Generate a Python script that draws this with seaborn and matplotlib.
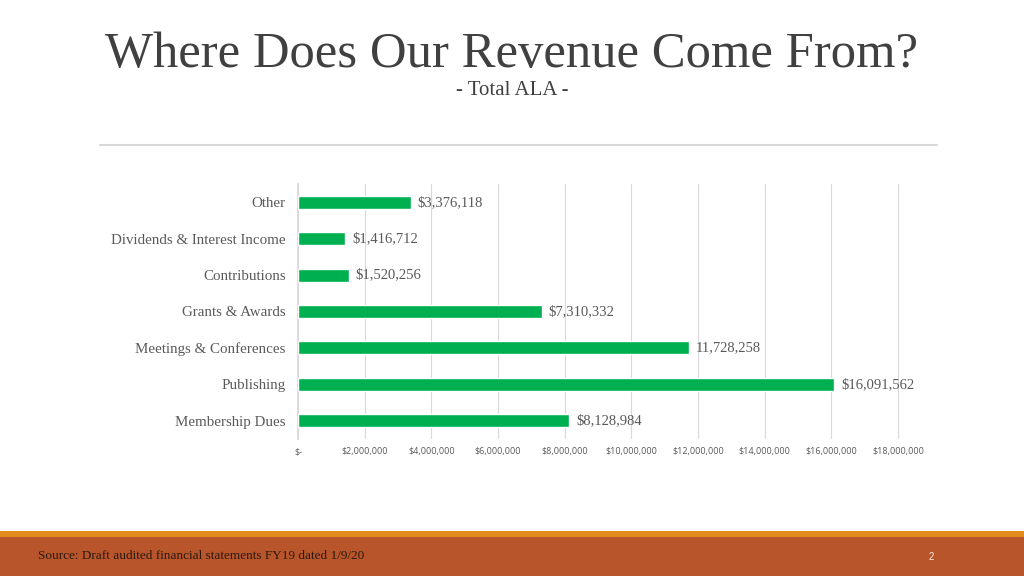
import numpy as np
import pandas as pd
import seaborn as sns
import matplotlib.pyplot as plt
from matplotlib.patches import Rectangle
from matplotlib.ticker import FuncFormatter

# veriler (üstten alta)
categories = ["Other", "Dividends & Interest Income", "Contributions",
              "Grants & Awards", "Meetings & Conferences", "Publishing",
              "Membership Dues"]
revenue = [3376118, 1416712, 1520256, 7310332, 11728258, 16091562, 8128984]
value_labels = ["$3,376,118", "$1,416,712", "$1,520,256", "$7,310,332",
                "11,728,258", "$16,091,562", "$8,128,984"]
x_ticks = [0, 2000000, 4000000, 6000000, 8000000, 10000000, 12000000,
           14000000, 16000000, 18000000]

df = pd.DataFrame({"category": categories, "revenue": revenue})

sns.set_theme(style="white")
serif = ["Liberation Serif", "DejaVu Serif"]

fig = plt.figure(figsize=(10.24, 5.76), dpi=100)
fig.patch.set_facecolor("white")

# başlık
fig.text(0.5, 0.905, "Where Does Our Revenue Come From?", ha="center", va="center",
         family=serif, fontsize=36.5, color="#404040")
fig.text(0.5, 0.843, "- Total ALA -", ha="center", va="center",
         family=serif, fontsize=15, color="#404040")
fig.add_artist(plt.Line2D([100 / 1024, 937 / 1024], [1 - 145 / 576, 1 - 145 / 576],
                          color="#D9D9D9", lw=1.5))

# alt bant
fig.add_artist(Rectangle((0, 0), 1, 39 / 576, transform=fig.transFigure,
                         facecolor="#B9552B", edgecolor="none"))
fig.add_artist(Rectangle((0, 39 / 576), 1, 6 / 576, transform=fig.transFigure,
                         facecolor="#E48B1E", edgecolor="none"))
fig.text(38 / 1024, 1 - 556 / 576, "Source: Draft audited financial statements FY19 dated 1/9/20",
         ha="left", va="center", family=serif, fontsize=9.5, color="#2B1A10")
fig.text(931 / 1024, 1 - 557 / 576, "2", ha="center", va="center",
         family=["Liberation Sans", "DejaVu Sans"], fontsize=7, color="#F7EAE2")

# bar grafiği
ax = fig.add_axes([298 / 1024, 1 - 439 / 576, 602 / 1024, 255 / 576])
sns.barplot(data=df, x="revenue", y="category", orient="h", color="#00B050",
            width=0.36, saturation=1, ax=ax, zorder=3)
ax.set_xlim(0, 18060000)
ax.set_ylim(6.5, -0.5)
ax.set_xticks(x_ticks)
ax.xaxis.set_major_formatter(FuncFormatter(lambda v, p: "$-" if v == 0 else f"${v:,.0f}"))
ax.grid(axis="x", color="#D9D9D9", lw=0.8, zorder=0)
ax.set_xlabel("")
ax.set_ylabel("")
for s in ["top", "right", "bottom"]:
    ax.spines[s].set_visible(False)
ax.spines["left"].set_color("#D9D9D9")
ax.tick_params(axis="x", length=0, pad=6, labelsize=6.5, labelcolor="#595959")
ax.tick_params(axis="y", length=0, pad=9, labelsize=10.8, labelcolor="#595959")
for t in ax.get_xticklabels():
    t.set_family(["Open Sans", "DejaVu Sans"])
for t in ax.get_yticklabels():
    t.set_family(serif)

for i, (v, lab) in enumerate(zip(revenue, value_labels)):
    ax.annotate(lab, (v, i), xytext=(5, 0), textcoords="offset points",
                ha="left", va="center", family=serif, fontsize=10.5,
                color="#595959")

fig.savefig("out.png", dpi=100)
